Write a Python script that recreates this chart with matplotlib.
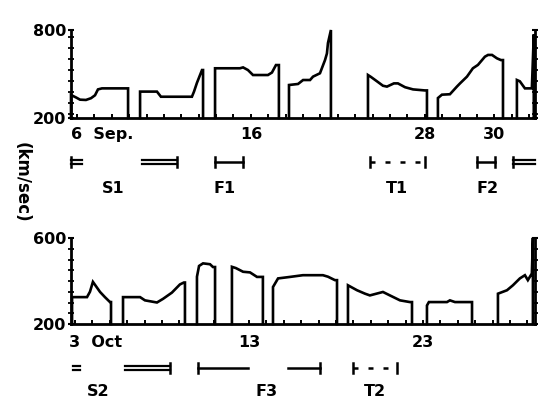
import matplotlib
matplotlib.use("Agg")
import matplotlib.pyplot as plt
import matplotlib.transforms as mtransforms
from matplotlib.ticker import MultipleLocator, FixedLocator

# ---------------- data (days of month, km/sec) ----------------
sep_seg_days = [
    [5.66, 5.95, 6.18, 6.52, 6.81, 7.04, 7.21, 7.44, 8.94],
    [9.63, 10.60, 10.83, 12.61, 12.73, 12.90, 13.19, 13.25],
    [13.94, 15.37, 15.55, 15.83, 16.12, 16.98, 17.21, 17.44, 17.61],
    [18.19, 18.71, 19.00, 19.40, 19.57, 19.97, 20.26, 20.37, 20.43, 20.60],
    [22.73, 22.90, 23.19, 23.59, 23.82, 24.22, 24.45, 24.86, 25.32, 26.00, 26.12],
    [26.75, 26.98, 27.44, 27.84, 28.02, 28.42, 28.76, 29.05, 29.45, 29.63, 29.86, 30.14, 30.37, 30.49],
    [31.29, 31.46, 31.75, 32.15, 32.26],
]
sep_seg_speed = [
    [357, 340, 325, 323, 335, 355, 395, 402, 402],
    [380, 380, 345, 345, 380, 440, 527, 527],
    [539, 539, 545, 527, 493, 493, 510, 561, 561],
    [425, 432, 459, 459, 482, 505, 595, 640, 711, 800],
    [493, 480, 455, 420, 414, 436, 436, 410, 395, 388, 388],
    [336, 359, 362, 414, 436, 482, 539, 562, 618, 630, 630, 607, 595, 595],
    [459, 450, 402, 402, 770],
]
oct_seg_days = [
    [2.83, 3.69, 3.86, 4.03, 4.44, 4.72, 5.01, 5.07],
    [5.76, 6.74, 7.02, 7.71, 8.06, 8.57, 9.03, 9.26, 9.32],
    [10.01, 10.13, 10.36, 10.76, 10.93, 11.05],
    [12.02, 12.25, 12.66, 13.06, 13.46, 13.80],
    [14.38, 14.67, 15.36, 16.10, 17.25, 17.54, 17.94, 18.06],
    [18.69, 19.21, 19.67, 19.95, 20.70, 21.10, 21.68, 22.25, 22.37],
    [23.23, 23.34, 24.38, 24.55, 24.84, 25.70, 25.82],
    [27.31, 27.83, 28.17, 28.57, 28.86, 29.03, 29.26, 29.32],
]
oct_seg_speed = [
    [325, 325, 350, 396, 349, 325, 302, 302],
    [325, 325, 310, 300, 317, 346, 384, 393, 393],
    [420, 470, 482, 478, 465, 465],
    [466, 460, 443, 440, 419, 419],
    [372, 412, 419, 427, 427, 420, 404, 404],
    [380, 357, 341, 333, 349, 333, 310, 302, 302],
    [286, 302, 302, 310, 302, 302, 302],
    [341, 357, 380, 412, 427, 404, 435, 601],
]

sep_ticks = [6, 16, 26, 30]
sep_tick_labels = ["6  Sep.", "16", "28", "30"]
oct_ticks = [3, 13, 23]
oct_tick_labels = ["3  Oct", "13", "23"]

# interval marks: start, end, style
sep_intervals = [(5.66, 6.30, "dbl_left"), (9.74, 11.75, "dbl_right"),
                 (13.94, 15.55, "bar"), (22.84, 26.00, "dash"),
                 (29.00, 30.03, "bar"), (31.06, 32.33, "dbl_left")]
sep_interval_names = ["S1", "F1", "T1", "F2"]
sep_name_days = [8.07, 14.51, 24.40, 29.63]

oct_intervals = [(2.88, 3.29, "dbl"), (5.87, 8.46, "dbl_right"),
                 (10.07, 12.94, "bar_left"), (15.24, 17.08, "bar_right"),
                 (18.98, 21.51, "dash")]
oct_interval_names = ["S2", "F3", "T2"]
oct_name_days = [4.32, 14.03, 20.24]

sep_ylim = (200, 800)
oct_ylim = (200, 600)
sep_xlim = (5.66, 32.33)
oct_xlim = (2.77, 29.44)

# ---------------- figure ----------------
W, H = 542, 400
fig = plt.figure(figsize=(W / 100, H / 100), dpi=100)
FONT = dict(family="DejaVu Sans", weight="bold", color="black")

def px_axes(x0, y0, x1, y1):
    return fig.add_axes([x0 / W, 1 - y1 / H, (x1 - x0) / W, (y1 - y0) / H])

ax1 = px_axes(71, 30, 535, 118)
ax2 = px_axes(71, 238, 535, 324)

def draw_panel(ax, seg_days, seg_speed, ylim, xlim, ystep, ticks, tick_labels,
               intervals, names, name_days, label_y, mark_y, name_y, pxh):
    base = ylim[0]
    for d, v in zip(seg_days, seg_speed):
        ax.plot([d[0]] + d + [d[-1]], [base] + v + [base], color="black",
                lw=1.9, solid_joinstyle="miter", clip_on=False)
    ax.set_xlim(*xlim)
    ax.set_ylim(*ylim)
    ax.spines["top"].set_visible(False)
    for s in ["left", "bottom", "right"]:
        ax.spines[s].set_linewidth(2.0)
    ax.yaxis.set_major_locator(FixedLocator([ylim[0], ylim[1]]))
    ax.yaxis.set_minor_locator(MultipleLocator(ystep))
    ax.set_yticklabels([str(ylim[0]), str(ylim[1])], fontsize=11.5, **FONT)
    ax.tick_params(axis="y", which="major", direction="inout", length=5,
                   width=1.5, pad=1, right=True)
    ax.tick_params(axis="y", which="minor", direction="inout", length=4,
                   width=1.3, right=True)
    ax.xaxis.set_major_locator(MultipleLocator(1))
    ax.xaxis.set_minor_locator(MultipleLocator(1))
    ax.tick_params(axis="x", which="both", direction="in", length=3,
                   width=1.4, labelbottom=False)
    tr = mtransforms.blended_transform_factory(ax.transData, ax.transAxes)
    for t, lab in zip(ticks, tick_labels):
        if "Sep" in lab or "Oct" in lab:
            ax.text(t - 0.35, label_y, lab, transform=tr, ha="left",
                    va="center", fontsize=11.5, **FONT)
        else:
            ax.text(t, label_y, lab, transform=tr, ha="center", va="center",
                    fontsize=11.5, **FONT)
    dy = 2.2 / pxh
    bar = 5.0 / pxh
    for a, b, style in intervals:
        kw = dict(transform=tr, color="black", clip_on=False)
        if style.startswith("dbl"):
            ax.plot([a, b], [mark_y + dy, mark_y + dy], lw=1.6, **kw)
            ax.plot([a, b], [mark_y - dy, mark_y - dy], lw=1.6, **kw)
            if style == "dbl_left":
                ax.plot([a, a], [mark_y - bar, mark_y + bar], lw=1.8, **kw)
            if style == "dbl_right":
                ax.plot([b, b], [mark_y - bar, mark_y + bar], lw=1.8, **kw)
        elif style.startswith("bar"):
            ax.plot([a, b], [mark_y, mark_y], lw=1.8, **kw)
            if style in ("bar", "bar_left"):
                ax.plot([a, a], [mark_y - bar, mark_y + bar], lw=1.8, **kw)
            if style in ("bar", "bar_right"):
                ax.plot([b, b], [mark_y - bar, mark_y + bar], lw=1.8, **kw)
        elif style == "dash":
            ax.plot([a, b], [mark_y, mark_y], lw=1.8, ls=(0, (2, 4)), **kw)
            ax.plot([a, a], [mark_y - bar, mark_y + bar], lw=1.8, **kw)
            ax.plot([b, b], [mark_y - bar, mark_y + bar], lw=1.8, **kw)
    for n, d in zip(names, name_days):
        ax.text(d, name_y, n, transform=tr, ha="center", va="center",
                fontsize=11.5, **FONT)

draw_panel(ax1, sep_seg_days, sep_seg_speed, sep_ylim, sep_xlim, 75,
           sep_ticks, sep_tick_labels, sep_intervals, sep_interval_names,
           sep_name_days, -0.19, -0.50, -0.80, 88)
draw_panel(ax2, oct_seg_days, oct_seg_speed, oct_ylim, oct_xlim, 50,
           oct_ticks, oct_tick_labels, oct_intervals, oct_interval_names,
           oct_name_days, -0.21, -0.51, -0.79, 86)

fig.text(22 / W, 1 - 182 / H, "(km/sec)", rotation=-90, ha="center",
         va="center", fontsize=12, **FONT)

fig.savefig("out.png", dpi=100)
